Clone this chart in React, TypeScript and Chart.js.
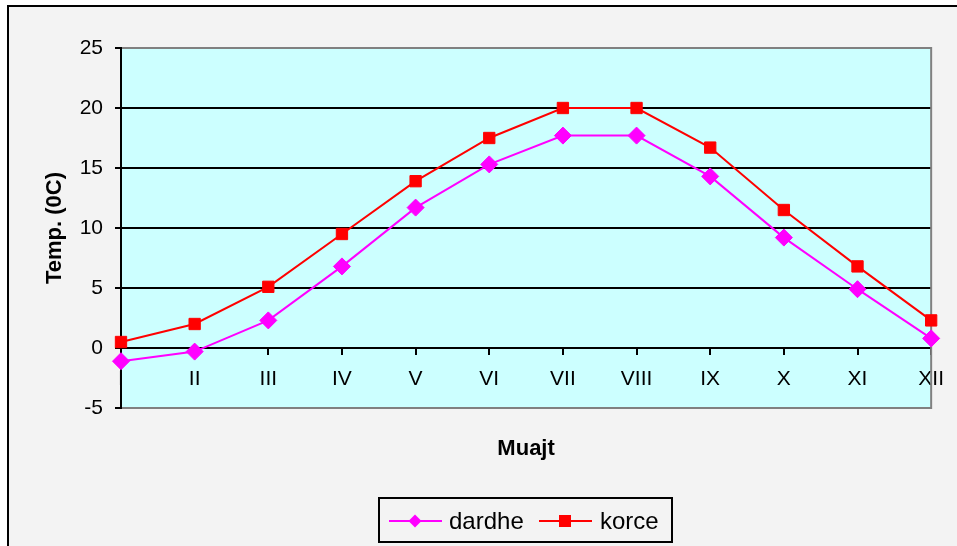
import React, { useEffect, useRef } from "react";
import { Chart, registerables } from "chart.js";

Chart.register(...registerables);

const months = ["I", "II", "III", "IV", "V", "VI", "VII", "VIII", "IX", "X", "XI", "XII"];
const dardhe = [-1.1, -0.3, 2.3, 6.8, 11.7, 15.3, 17.7, 17.7, 14.3, 9.2, 4.9, 0.8];
const korce = [0.5, 2.0, 5.1, 9.5, 13.9, 17.5, 20.0, 20.0, 16.7, 11.5, 6.8, 2.3];
const yMin = -5;
const yMax = 25;
const yStep = 5;
const yTitle = "Temp. (0C)";
const xTitle = "Muajt";
const seriesNames = ["dardhe", "korce"];
const seriesColors = ["#FF00FF", "#FF0000"];

const FONT = '"Liberation Sans", Arial, sans-serif';

const decor = {
  id: "decor",
  beforeDraw(chart: any) {
    const { ctx, chartArea: a, width, height } = chart;
    ctx.save();
    ctx.fillStyle = "#FFFFFF";
    ctx.fillRect(0, 0, width, height);
    ctx.fillStyle = "#F3F3F3";
    ctx.fillRect(9, 7, width - 9, height - 7);
    ctx.fillStyle = "#000000";
    ctx.fillRect(7, 5, width - 7, 2);
    ctx.fillRect(7, 5, 2, height - 5);
    ctx.fillStyle = "#CCFFFF";
    ctx.fillRect(a.left, a.top, a.right - a.left, a.bottom - a.top);
    ctx.restore();
  },
  beforeDatasetsDraw(chart: any) {
    const { ctx, chartArea: a } = chart;
    ctx.save();
    ctx.strokeStyle = "#808080";
    ctx.lineWidth = 2;
    ctx.beginPath();
    ctx.moveTo(a.left + 1, a.top);
    ctx.lineTo(a.right, a.top);
    ctx.lineTo(a.right, a.bottom);
    ctx.lineTo(a.left + 1, a.bottom);
    ctx.stroke();
    ctx.restore();
  },
  afterDraw(chart: any) {
    const { ctx, chartArea: a } = chart;
    ctx.save();
    ctx.fillStyle = "#000";
    ctx.font = `bold 22px ${FONT}`;
    ctx.textAlign = "center";
    ctx.textBaseline = "middle";
    ctx.save();
    ctx.translate(55, (a.top + a.bottom) / 2);
    ctx.rotate(-Math.PI / 2);
    ctx.fillText(yTitle, 0, 0);
    ctx.restore();
    ctx.fillText(xTitle, (a.left + a.right) / 2, 449);

    // legend
    ctx.strokeStyle = "#000";
    ctx.lineWidth = 2;
    ctx.strokeRect(379, 498, 293, 44);
    const ly = 521;
    const items = [
      { x0: 389, x1: 442, mx: 415, tx: 449, style: "diamond" },
      { x0: 539, x1: 592, mx: 565, tx: 600, style: "square" },
    ];
    ctx.font = `24px ${FONT}`;
    ctx.textAlign = "left";
    items.forEach((it, i) => {
      const c = seriesColors[i];
      ctx.strokeStyle = c;
      ctx.fillStyle = c;
      ctx.lineWidth = 2;
      ctx.beginPath();
      ctx.moveTo(it.x0, ly);
      ctx.lineTo(it.x1, ly);
      ctx.stroke();
      ctx.beginPath();
      if (it.style === "diamond") {
        ctx.moveTo(it.mx - 6.5, ly);
        ctx.lineTo(it.mx, ly - 6.5);
        ctx.lineTo(it.mx + 6.5, ly);
        ctx.lineTo(it.mx, ly + 6.5);
        ctx.closePath();
      } else {
        ctx.rect(it.mx - 6, ly - 6, 12, 12);
      }
      ctx.fill();
      ctx.fillStyle = "#000";
      ctx.fillText(seriesNames[i], it.tx, ly + 1);
    });
    ctx.restore();
  },
};

export default function App() {
  const ref = useRef<HTMLCanvasElement>(null);
  useEffect(() => {
    Chart.defaults.font.family = FONT;
    const chart = new Chart(ref.current!, {
      type: "line",
      data: {
        labels: months,
        datasets: [
          {
            label: seriesNames[0],
            data: dardhe,
            borderColor: seriesColors[0],
            backgroundColor: seriesColors[0],
            borderWidth: 2,
            pointStyle: "rectRot",
            pointRadius: 8.5,
            pointBorderWidth: 1,
            tension: 0,
            clip: false as any,
          },
          {
            label: seriesNames[1],
            data: korce,
            borderColor: seriesColors[1],
            backgroundColor: seriesColors[1],
            borderWidth: 2,
            pointStyle: "rect",
            pointRadius: 8,
            pointBorderWidth: 1,
            tension: 0,
            clip: false as any,
          },
        ],
      },
      options: {
        responsive: false,
        animation: false,
        devicePixelRatio: 1,
        layout: { padding: { left: 0, top: 48, right: 24, bottom: 138 } },
        plugins: { legend: { display: false }, tooltip: { enabled: false } },
        scales: {
          x: {
            type: "category",
            position: { y: 0 } as any,
            offset: false,
            grid: {
              display: true,
              drawOnChartArea: false,
              drawTicks: true,
              tickLength: 6,
              color: "#000",
              lineWidth: 2,
            },
            border: { display: true, color: "#000", width: 2 },
            ticks: {
              autoSkip: false,
              maxRotation: 0,
              padding: 13,
              color: "#000",
              font: { size: 21 },
            },
          },
          y: {
            min: yMin,
            max: yMax,
            ticks: { stepSize: yStep, padding: 12, color: "#000", font: { size: 21 } },
            grid: {
              color: (c: any) =>
                c.tick && (c.tick.value === yMax || c.tick.value === yMin) ? "rgba(0,0,0,0)" : "#000",
              tickColor: "#000",
              lineWidth: 2,
              tickLength: 6,
            },
            border: { display: true, color: "#000", width: 2 },
            afterFit: (s: any) => {
              s.width = 121;
            },
          },
        },
      },
      plugins: [decor],
    });
    return () => chart.destroy();
  }, []);
  return (
    <div style={{ position: "fixed", left: 0, top: 0, width: 957, height: 546 }}>
      <canvas ref={ref} width={957} height={546} style={{ display: "block" }} />
    </div>
  );
}
